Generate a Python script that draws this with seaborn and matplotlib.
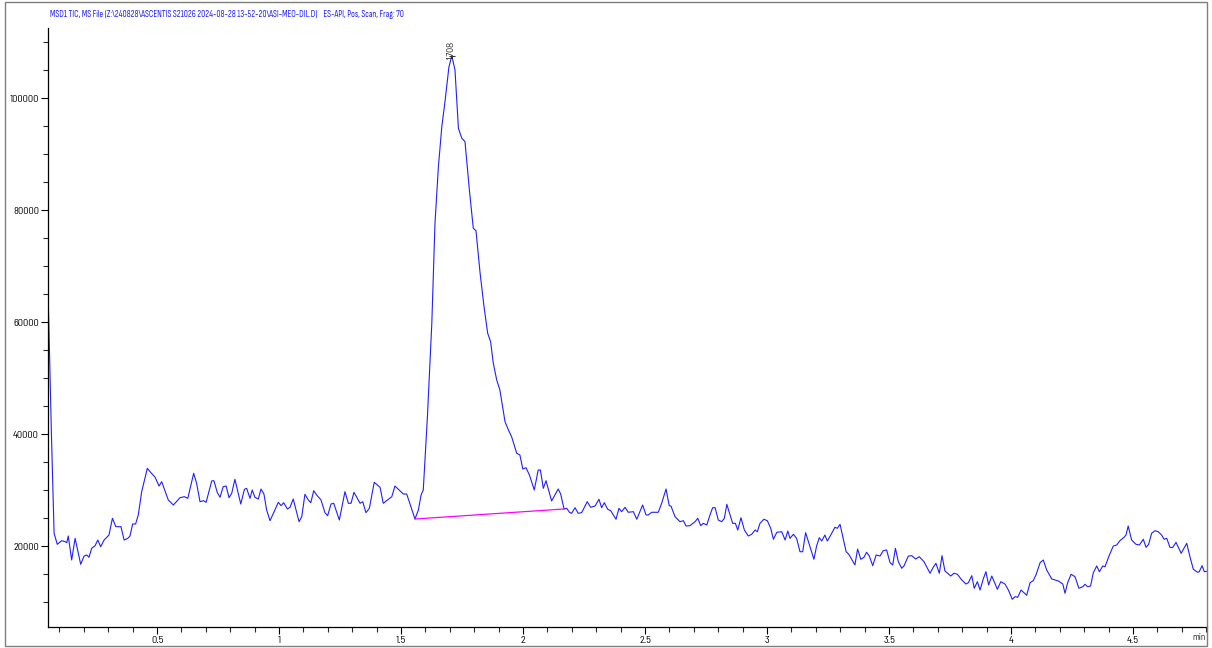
import os
import numpy as np
import pandas as pd

import matplotlib
matplotlib.use('Agg')

from matplotlib import pyplot as plt
from matplotlib import font_manager
from matplotlib.font_manager import FontProperties
from matplotlib.patches import Rectangle
from matplotlib.ticker import MultipleLocator, FuncFormatter
import seaborn as sns

# TIC trace (retention time in min, counts)
time_min = [
    0.053, 0.067, 0.078, 0.091, 0.109, 0.123, 0.130, 0.136, 0.150, 0.164,
    0.173, 0.187, 0.201, 0.212, 0.221, 0.232, 0.246, 0.257, 0.269, 0.283,
    0.303, 0.317, 0.331, 0.352, 0.365, 0.380, 0.389, 0.400, 0.412, 0.423,
    0.437, 0.460, 0.475, 0.492, 0.508, 0.519, 0.546, 0.567, 0.594, 0.612,
    0.626, 0.650, 0.662, 0.676, 0.690, 0.701, 0.724, 0.733, 0.747, 0.758,
    0.771, 0.783, 0.795, 0.806, 0.819, 0.843, 0.858, 0.867, 0.881, 0.890,
    0.901, 0.915, 0.926, 0.938, 0.949, 0.963, 0.983, 0.997, 1.008, 1.019,
    1.034, 1.045, 1.058, 1.082, 1.093, 1.106, 1.120, 1.130, 1.142, 1.154,
    1.172, 1.188, 1.199, 1.213, 1.224, 1.247, 1.270, 1.284, 1.295, 1.307,
    1.332, 1.343, 1.356, 1.370, 1.390, 1.414, 1.427, 1.462, 1.475, 1.509,
    1.523, 1.557, 1.571, 1.582, 1.591, 1.608, 1.626, 1.639, 1.653, 1.667,
    1.680, 1.696, 1.708, 1.721, 1.735, 1.749, 1.762, 1.780, 1.796, 1.807,
    1.824, 1.840, 1.855, 1.867, 1.878, 1.892, 1.905, 1.926, 1.940, 1.953,
    1.974, 1.987, 1.999, 2.012, 2.026, 2.046, 2.062, 2.071, 2.083, 2.094,
    2.117, 2.144, 2.154, 2.168, 2.179, 2.190, 2.199, 2.213, 2.226, 2.240,
    2.263, 2.277, 2.295, 2.311, 2.322, 2.333, 2.347, 2.359, 2.381, 2.393,
    2.404, 2.418, 2.431, 2.452, 2.466, 2.490, 2.504, 2.513, 2.527, 2.554,
    2.568, 2.586, 2.599, 2.606, 2.623, 2.643, 2.657, 2.668, 2.684, 2.705,
    2.716, 2.728, 2.739, 2.753, 2.766, 2.777, 2.787, 2.800, 2.814, 2.825,
    2.835, 2.859, 2.870, 2.880, 2.893, 2.907, 2.923, 2.937, 2.951, 2.960,
    2.971, 2.987, 3.001, 3.015, 3.026, 3.040, 3.060, 3.074, 3.085, 3.094,
    3.108, 3.121, 3.135, 3.146, 3.158, 3.176, 3.192, 3.203, 3.214, 3.224,
    3.237, 3.247, 3.261, 3.278, 3.288, 3.299, 3.324, 3.335, 3.360, 3.371,
    3.384, 3.397, 3.408, 3.419, 3.433, 3.447, 3.463, 3.476, 3.490, 3.504,
    3.515, 3.526, 3.538, 3.552, 3.561, 3.579, 3.593, 3.609, 3.624, 3.643,
    3.668, 3.681, 3.692, 3.706, 3.717, 3.729, 3.753, 3.766, 3.780, 3.798,
    3.815, 3.825, 3.839, 3.849, 3.862, 3.873, 3.886, 3.897, 3.908, 3.921,
    3.944, 3.958, 3.975, 3.989, 4.005, 4.016, 4.027, 4.041, 4.053, 4.064,
    4.078, 4.091, 4.102, 4.119, 4.132, 4.146, 4.167, 4.194, 4.212, 4.221,
    4.232, 4.246, 4.262, 4.278, 4.294, 4.303, 4.314, 4.326, 4.337, 4.351,
    4.362, 4.376, 4.385, 4.403, 4.419, 4.433, 4.446, 4.463, 4.471, 4.480,
    4.494, 4.512, 4.526, 4.542, 4.553, 4.564, 4.576, 4.590, 4.603, 4.617,
    4.627, 4.638, 4.651, 4.662, 4.676, 4.697, 4.720, 4.733, 4.747, 4.765,
    4.771, 4.783, 4.792, 4.808,
]
tic = [
    66000, 40000, 22270, 20300, 20950, 20770, 20600, 21790, 17500, 21370,
    19590, 16730, 18210, 18390, 17980, 19590, 20050, 21070, 19880, 21070,
    21960, 24950, 23450, 23450, 21070, 21370, 21790, 23930, 23930, 25540,
    29700, 33870, 33090, 32270, 30710, 31480, 28210, 27320, 28630, 28810,
    28510, 32980, 31200, 27910, 28090, 27800, 31610, 31660, 29520, 28700,
    30590, 30710, 28630, 29410, 31910, 27500, 30120, 30300, 28510, 30000,
    28700, 28390, 30180, 29290, 26430, 24520, 26430, 27800, 27200, 27730,
    26610, 26910, 28390, 24340, 25230, 29230, 28210, 27730, 29880, 29110,
    28210, 25950, 25410, 27500, 27630, 24640, 29700, 27630, 27630, 29590,
    27630, 27910, 25950, 26730, 31370, 30480, 27630, 28810, 30710, 29290,
    29290, 24820, 26430, 29110, 30000, 43090, 59770, 77630, 87740, 94880,
    99350, 105500, 107560, 104990, 94590, 92810, 92200, 83570, 76730, 76310,
    68700, 62740, 57980, 56490, 52630, 49640, 47860, 42200, 40720, 39520,
    36560, 36250, 33750, 33980, 32680, 30000, 33570, 33570, 30300, 31660,
    28040, 30180, 29290, 26610, 26730, 26020, 25840, 26840, 25840, 25950,
    27910, 26910, 27140, 28340, 26840, 27730, 26550, 26310, 24770, 26730,
    26130, 26910, 26020, 26130, 24770, 27320, 25540, 25540, 26020, 26020,
    27630, 30180, 27200, 27140, 25230, 24340, 24520, 23570, 23630, 24340,
    24950, 23630, 24050, 23750, 25540, 26840, 26840, 24640, 24340, 24950,
    27450, 24050, 24050, 22860, 25050, 22860, 21790, 22090, 22860, 22550,
    24050, 24770, 24520, 23160, 21200, 22450, 22550, 21070, 22680, 21370,
    22090, 21370, 18980, 18980, 22380, 19880, 17630, 20000, 21480, 20890,
    21960, 20890, 21960, 23340, 23160, 23880, 18980, 18520, 16610, 19460,
    17630, 17980, 18880, 18210, 16480, 18390, 18210, 19160, 19290, 17020,
    16610, 19590, 17200, 16020, 16430, 18210, 18270, 17680, 18090, 17200,
    15130, 16200, 16910, 15130, 18270, 15540, 14640, 15130, 14950, 13930,
    13210, 13450, 14700, 12450, 13630, 12140, 14110, 15410, 13040, 14640,
    12270, 13630, 13210, 12140, 10480, 10950, 10830, 12140, 11660, 11200,
    13450, 13810, 14820, 17020, 17500, 15710, 14110, 13750, 13210, 11550,
    13450, 14950, 14520, 12450, 12730, 13160, 12730, 12860, 15230, 16430,
    15410, 16430, 16310, 18390, 20000, 20180, 20950, 21550, 21960, 23570,
    21070, 20300, 20180, 21200, 19770, 20300, 22270, 22730, 22550, 21960,
    21200, 21370, 19770, 19710, 20660, 18700, 20480, 18090, 15840, 15300,
    15410, 16480, 15410, 15540,
]

# integration baseline of the labelled peak
baseline_time = [1.557, 2.168]
baseline_tic = [24820, 26610]
peak_time = 1.708
peak_tic = 107560
peak_label = "1.708"

title = ("MSD1 TIC, MS File (Z:\\240828\\ASCENTIS S21026 2024-08-28 13-52-20\\ASI-MEO-DIL.D)"
         "    ES-API, Pos, Scan, Frag: 70")


def candidate_fonts():
    """Regular upright sans faces, narrow/condensed ones included (instrument software uses Arial Narrow)."""
    found = []
    for f in font_manager.fontManager.ttflist:
        label = (f.name + ' ' + os.path.basename(f.fname)).lower().replace(' ', '').replace('-', '')
        if f.style != 'normal' or 'mono' in label or 'italic' in label:
            continue
        if 'serif' in label and 'sans' not in label:
            continue
        if any(k in label for k in ('bold', 'black', 'light', 'thin', 'medium', 'semibold',
                                    'extrabold', 'cjk', 'math', 'symbol', 'emoji')):
            continue
        w = f.weight if isinstance(f.weight, (int, float)) else 400
        if w != 400:
            continue
        narrow = any(k in label for k in ('narrow', 'condensed'))
        if narrow or f.name == 'Liberation Sans':
            found.append(f.fname)
    return sorted(set(found))


sns.set_style('white')
plt.rcParams['font.family'] = ['Liberation Sans', 'DejaVu Sans']

W, H = 1212, 648
fig = plt.figure(figsize=(W / 100, H / 100), dpi=100)
ax = fig.add_axes([48 / W, 1 - 627 / H, (1207 - 48) / W, (627 - 28) / H])

df = pd.DataFrame({'time': time_min, 'tic': tic})
sns.lineplot(data=df, x='time', y='tic', sort=False, estimator=None,
             color='#1f1fff', lw=0.8, ax=ax)
ax.plot(baseline_time, baseline_tic, color='#ff00ff', lw=0.9)
ax.plot(peak_time, peak_tic, marker='_', ms=5, mew=0.8, color='#333333')

ax.set_xlim(0.053, 4.803)
ax.set_ylim(5536, 112500)
ax.xaxis.set_major_locator(MultipleLocator(0.5))
ax.xaxis.set_minor_locator(MultipleLocator(0.1))
ax.yaxis.set_major_locator(MultipleLocator(20000))
ax.yaxis.set_minor_locator(MultipleLocator(5000))
ax.xaxis.set_major_formatter(FuncFormatter(lambda v, p: f"{v:g}"))
ax.tick_params(which='major', direction='out', length=5, width=0.8, pad=1.5, colors='black')
ax.tick_params(which='minor', direction='out', length=3.5, width=0.8)
ax.tick_params(axis='x', which='both', bottom=True)
ax.tick_params(axis='y', which='both', left=True)
ax.set_xlabel('')
ax.set_ylabel('')
for side in ['top', 'right']:
    ax.spines[side].set_visible(False)
for side in ['left', 'bottom']:
    ax.spines[side].set_color('black')
    ax.spines[side].set_linewidth(0.9)

fig.canvas.draw()
renderer = fig.canvas.get_renderer()
fonts = candidate_fonts()


def best_font(text, target_px, target_size):
    """Pick the face whose width-fitted size is closest to the wanted point size."""
    best = None
    for fname in fonts or [None]:
        fp = FontProperties(fname=fname) if fname else FontProperties(family='Liberation Sans')
        probe = fig.text(0, 0, text, fontproperties=fp, fontsize=10)
        width = probe.get_window_extent(renderer).width
        probe.remove()
        if width <= 0:
            continue
        size = 10 * target_px / width
        score = abs(np.log(size / target_size))
        if best is None or score < best[0]:
            best = (score, fp, size)
    return best[1], best[2]


tick_fp, tick_size = best_font('100000', 29, 7.3)
title_fp, title_size = best_font(title, 353, 6.6)
peak_fp, peak_size = best_font(peak_label, 18, 6.5)

for lbl in ax.get_xticklabels() + ax.get_yticklabels():
    lbl.set_fontproperties(tick_fp)
    lbl.set_fontsize(tick_size)

ax.text(peak_time, peak_tic - 600, peak_label, rotation=90, ha='center', va='bottom',
        fontproperties=peak_fp, fontsize=peak_size, color='#222222')
fig.text(1206 / W, 1 - 638 / H, 'min', ha='right', va='center',
         fontproperties=tick_fp, fontsize=tick_size * 0.9)
fig.text(50 / W, 1 - 14 / H, title, ha='left', va='center',
         fontproperties=title_fp, fontsize=title_size, color='#2020ff')

fig.patches.append(Rectangle((5 / W, 2 / H), (1207 - 5) / W, (646 - 2) / H,
                             transform=fig.transFigure, fill=False,
                             edgecolor='#7f7f7f', lw=1))

fig.savefig('out.png', dpi=100)
plt.close(fig)
